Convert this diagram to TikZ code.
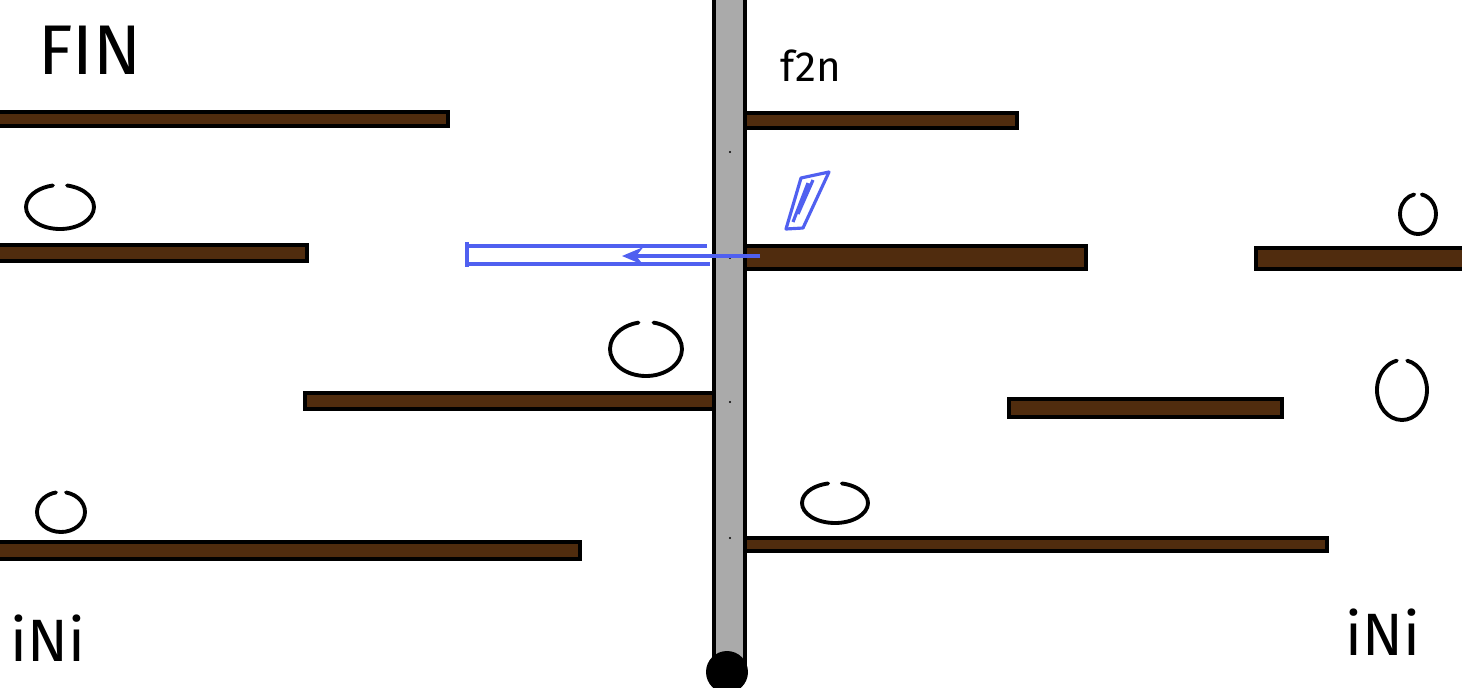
\documentclass[tikz,border=0pt]{standalone}
\usepackage{fontspec}
\setmainfont{Fira Sans}
\usetikzlibrary{arrows.meta}
\definecolor{holz}{RGB}{80,44,14}
\definecolor{stange}{RGB}{170,170,170}
\definecolor{stift}{RGB}{80,96,240}
\tikzset{
  brett/.style={draw=black, line width=1.1pt, fill=holz},
  kugel/.style={draw=black, line width=1.1pt, line cap=round},
  schrift/.style={inner sep=0pt, font=\fontsize{16}{16}\selectfont},
  blau/.style={draw=stift, line width=0.9pt}
}
% offener Kreis, Luecke oben
\newcommand{\kugel}[4]{\draw[kugel] ([shift={(-78:#3 and #4)}]#1,#2) arc[start angle=-78, end angle=258, x radius=#3, y radius=#4];}
\begin{document}
\begin{tikzpicture}[x=0.01cm, y=-0.01cm]
  \useasboundingbox (0,0) rectangle (1462,687);

  % Die Stange in der Mitte
  \draw[fill=stange, line width=1.1pt] (714,-5) rectangle (745,672);
  \fill[black] (727,672) circle (21);
  \foreach \y in {152,258,402,538}
    \fill[black] (730,\y) circle (1.2);

  % Bretter links
  \draw[brett] (-5,112) rectangle (448,126);
  \draw[brett] (-5,245) rectangle (307,261);
  \draw[brett] (305,393) rectangle (714,409);
  \draw[brett] (-5,542) rectangle (580,559);

  % Bretter rechts
  \draw[brett] (745,113) rectangle (1017,128);
  \draw[brett] (745,246) rectangle (1086,269);
  \draw[brett] (1256,248) rectangle (1467,269);
  \draw[brett] (1009,399) rectangle (1282,417);
  \draw[brett] (745,538) rectangle (1327,551);

  % Kugeln
  \kugel{60}{207}{34}{22}
  \kugel{646}{349}{36}{27}
  \kugel{61}{512}{24}{20}
  \kugel{1418}{214}{18}{20}
  \kugel{1402}{390}{25}{30}
  \kugel{835}{503}{33}{20}

  % Beschriftung
  \node[schrift, font=\fontsize{20}{20}\selectfont] (fin) at (90,50) {FIN};
  \node[schrift, font=\fontsize{12}{12}\selectfont] (ftn) at (811,66) {f2n};
  \node[schrift, font=\fontsize{17}{17}\selectfont] (inil) at (48,638) {iNi};
  \node[schrift, font=\fontsize{17}{17}\selectfont] (inir) at (1383,632) {iNi};

  % Blauer Pfeil
  \coordinate (start) at (760,256);
  \coordinate (ziel) at (622,256);
  \draw[blau] (707,246) -- (467,246);
  \draw[blau] (710,264) -- (467,264);
  \draw[blau] (467,242) -- (467,267);
  \draw[blau, -{Stealth[length=6pt, width=5pt]}] (start) -- (ziel);

  % Blaues Gekritzel
  \draw[blau, line join=round] (786,229) -- (801,178) -- (829,172) -- (803,228) -- cycle;
  \draw[blau] (793,222) -- (808,183) (798,214) -- (813,180);
\end{tikzpicture}
\end{document}
